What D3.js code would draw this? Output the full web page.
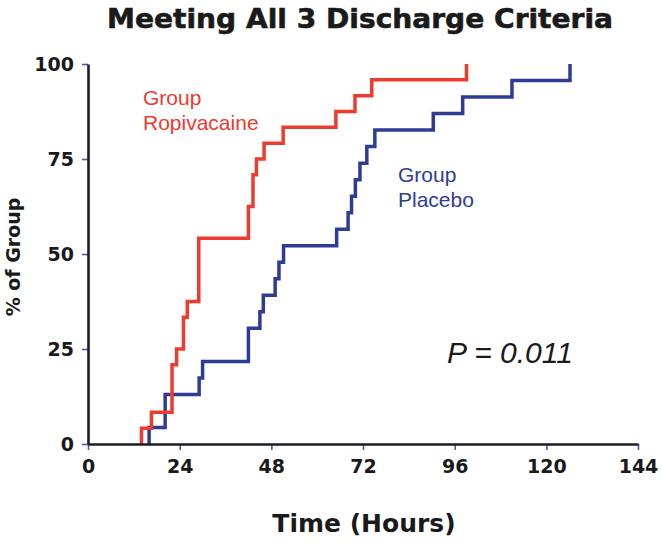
<!DOCTYPE html>
<html><head><meta charset="utf-8">
<script src="https://cdn.jsdelivr.net/npm/d3@7"></script>
<style>body{margin:0;background:#fff}svg{display:block}</style>
</head><body><svg id="c" width="662" height="546"></svg>
<script>
// Data (hours, % of group meeting all discharge criteria)
const ropiTimes = [14, 16.6, 22, 23.2, 25, 26, 29, 42, 43.2, 44.1, 46.1, 51.1, 64.9, 69.9, 74.3, 99.1];
const ropiPct   = [4.17, 8.33, 20.83, 25, 33.33, 37.5, 54.17, 62.5, 70.83, 75, 79.17, 83.33, 87.5, 91.67, 95.83, 100];
const placTimes = [16, 20.2, 29.1, 30, 42, 45, 45.9, 49, 50, 51.2, 65.1, 68.1, 69, 70, 71.2, 73, 75.1, 90.4, 98.1, 111, 126.2];
const placPct   = [4.35, 13.04, 17.39, 21.74, 30.43, 34.78, 39.13, 43.48, 47.83, 52.17, 56.52, 60.87, 65.22, 69.57, 73.91, 78.26, 82.61, 86.96, 91.30, 95.65, 100];
const xTicks = [0, 24, 48, 72, 96, 120, 144];
const yTicks = [0, 25, 50, 75, 100];
const titleText = "Meeting All 3 Discharge Criteria";
const xLabel = "Time (Hours)";
const yLabel = "% of Group";
const ropiLabel = ["Group", "Ropivacaine"];
const placLabel = ["Group", "Placebo"];
const pText = "P = 0.011";

const RED = "#ee3a2f", BLUE = "#2f3c96", AXIS = "#1c1c22", TICK = "#4a5aa8";
const svg = d3.select("#c");
const x = d3.scaleLinear().domain([0, 144]).range([88, 638]);
const y = d3.scaleLinear().domain([0, 100]).range([444, 64]);

// series
function steps(times, pct) {
  const pts = [{t: times[0], p: 0}];
  times.forEach((t, i) => pts.push({t, p: pct[i]}));
  return pts;
}
const line = d3.line().x(d => x(d.t)).y(d => y(d.p)).curve(d3.curveStepAfter);
svg.append("path").datum(steps(placTimes, placPct)).attr("d", line)
  .attr("fill", "none").attr("stroke", BLUE).attr("stroke-width", 3.5).attr("stroke-linejoin", "miter");
svg.append("path").datum(steps(ropiTimes, ropiPct)).attr("d", line)
  .attr("fill", "none").attr("stroke", RED).attr("stroke-width", 3.5).attr("stroke-linejoin", "miter");

// axes
const tickFont = "'DejaVu Sans', sans-serif";
const xAxis = svg.append("g").attr("transform", `translate(0,${y(0)})`)
  .call(d3.axisBottom(x).tickValues(xTicks).tickSize(6).tickSizeOuter(0).tickPadding(6));
const yAxis = svg.append("g").attr("transform", `translate(${x(0)},0)`)
  .call(d3.axisLeft(y).tickValues(yTicks).tickSize(6).tickSizeOuter(0).tickPadding(8));
[xAxis, yAxis].forEach(g => {
  g.select(".domain").attr("stroke", AXIS).attr("stroke-width", 2.6);
  g.selectAll(".tick line").attr("stroke", TICK).attr("stroke-width", 1.6);
  g.selectAll(".tick text").attr("fill", "#1a1a1a").style("font-family", tickFont)
    .style("font-weight", "bold").style("font-size", "19px");
});
xAxis.selectAll(".tick text").attr("dy", "0.9em");
yAxis.selectAll(".tick text").attr("dy", "0.36em");
xAxis.select(".domain").raise();
yAxis.select(".domain").raise();

// title and axis labels
svg.append("text").attr("x", 360).attr("y", 28).attr("text-anchor", "middle")
  .style("font-family", tickFont).style("font-weight", "bold").style("font-size", "27px")
  .attr("fill", "#1a1a1a").attr("stroke", "#1a1a1a").attr("stroke-width", 0.6)
  .attr("textLength", 506).attr("lengthAdjust", "spacingAndGlyphs").text(titleText);
svg.append("text").attr("x", 364).attr("y", 532).attr("text-anchor", "middle")
  .style("font-family", tickFont).style("font-weight", "bold").style("font-size", "25px")
  .attr("fill", "#1a1a1a").text(xLabel);
svg.append("text").attr("transform", "translate(20,257) rotate(-90)").attr("text-anchor", "middle")
  .style("font-family", tickFont).style("font-weight", "bold").style("font-size", "19px")
  .attr("fill", "#1a1a1a").text(yLabel);

// group labels
const lab = (lines, x0, y0, color) => {
  const t = svg.append("text").attr("x", x0).attr("y", y0)
    .style("font-family", "'Liberation Sans', Arial, sans-serif").style("font-size", "21px").attr("fill", color);
  lines.forEach((s, i) => t.append("tspan").attr("x", x0).attr("dy", i ? 25 : 0).text(s));
};
lab(ropiLabel, 143, 105, RED);
lab(placLabel, 398, 182, BLUE);

svg.append("text").attr("x", 447).attr("y", 363)
  .style("font-family", "'Liberation Sans', Arial, sans-serif").style("font-size", "30px")
  .style("font-style", "italic").attr("fill", "#1a1a1a").text(pText);
</script>
</body></html>
